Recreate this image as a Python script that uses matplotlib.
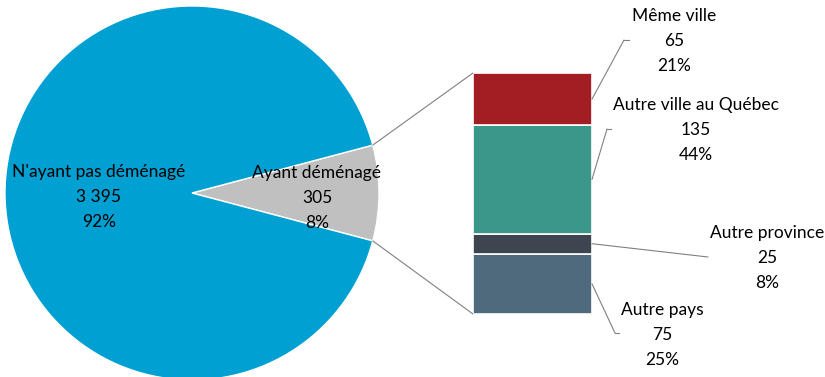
import matplotlib.pyplot as plt
from matplotlib.patches import ConnectionPatch
import numpy as np

# données
pie_labels = ["Ayant déménagé", "N'ayant pas déménagé"]
pie_values = [305, 3395]
pie_pct = ["8%", "92%"]
pie_colors = ["#C0C0C0", "#00A0D2"]

bar_labels = ["Autre pays", "Autre province", "Autre ville au Québec", "Même ville"]
bar_values = [75, 25, 135, 65]
bar_pct = ["25%", "8%", "44%", "21%"]
bar_colors = ["#4F6A7C", "#3E4550", "#3A978A", "#A21E23"]

plt.rcParams['font.family'] = ['Lato', 'DejaVu Sans']

W, H = 825, 377
fig = plt.figure(figsize=(W / 100, H / 100), dpi=100)
ax = fig.add_axes([0, 0, 1, 1])

# camembert (coordonnées en pixels, y vers le haut)
cx, cy, r = 192, H - 193, 187
span = 360 * pie_values[0] / sum(pie_values)
wedges, _ = ax.pie(pie_values, colors=pie_colors, startangle=-span / 2,
                   center=(cx, cy), radius=r,
                   wedgeprops=dict(edgecolor='white', linewidth=1))
ax.set_xlim(0, W)
ax.set_ylim(0, H)
ax.set_aspect('equal')
ax.axis('off')

fs = 12.5
ls = 1.7
ax.text(99, H - 197, f"{pie_labels[1]}\n{pie_values[1]:,}".replace(",", " ") + f"\n{pie_pct[1]}",
        ha='center', va='center', fontsize=fs, linespacing=ls)
ax.text(317, H - 198, f"{pie_labels[0]}\n{pie_values[0]}\n{pie_pct[0]}",
        ha='center', va='center', fontsize=fs, linespacing=ls)

# barre empilée
axb = fig.add_axes([473 / W, (H - 314) / H, 119 / W, 241 / H])
bottom = 0
mids = []
for v, c in zip(bar_values, bar_colors):
    axb.bar(0, v, bottom=bottom, width=1, color=c, edgecolor='white', linewidth=1.2)
    mids.append(bottom + v / 2)
    bottom += v
axb.set_xlim(-0.5, 0.5)
axb.set_ylim(0, bottom)
axb.axis('off')

# lignes de liaison camembert -> barre
w = wedges[0]
for ang, yb in [(w.theta2, bottom), (w.theta1, 0)]:
    px = cx + r * np.cos(np.radians(ang))
    py = cy + r * np.sin(np.radians(ang))
    con = ConnectionPatch(xyA=(px, py), coordsA=ax.transData,
                          xyB=(-0.5, yb), coordsB=axb.transData,
                          color='#808080', linewidth=0.8)
    fig.add_artist(con)

# étiquettes de la barre: (centre texte x, y pixel du centre, coude x, coude y, fin x)
label_pos = [
    (662, 335, 615, 333, 619),
    (767, 258, 708, 257, 708),
    (696, 130, 607, 129, 611),
    (674, 41, 624, 40, 629),
]
for lab, v, p, m, (tx, ty, ex, ey, fx) in zip(bar_labels, bar_values, bar_pct, mids, label_pos):
    ax.text(tx, H - ty, f"{lab}\n{v}\n{p}", ha='center', va='center',
            fontsize=fs, linespacing=ls)
    con = ConnectionPatch(xyA=(0.5, m), coordsA=axb.transData,
                          xyB=(ex, H - ey), coordsB=ax.transData,
                          color='#808080', linewidth=0.8)
    fig.add_artist(con)
    ax.plot([ex, fx], [H - ey, H - ey], color='#808080', linewidth=0.8)

fig.savefig('out.png', dpi=100)
